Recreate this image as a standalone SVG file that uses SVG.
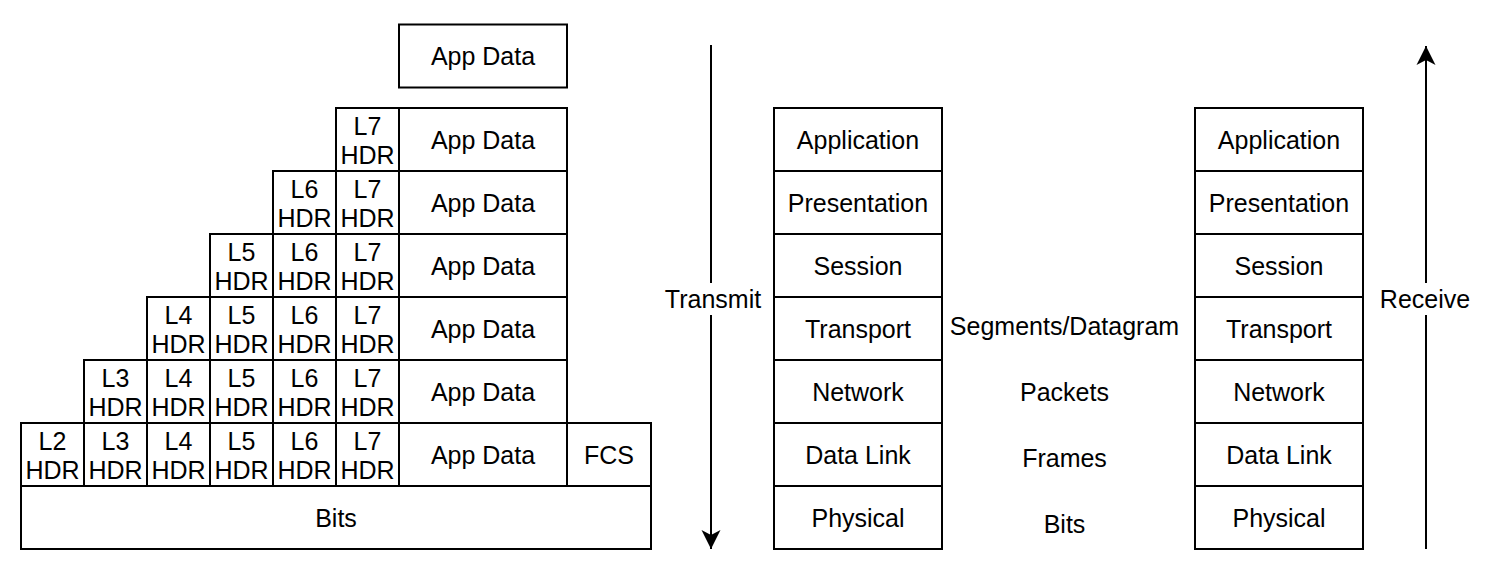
<svg xmlns="http://www.w3.org/2000/svg" width="1511" height="585" viewBox="0 0 1511 585">
<style>
rect.b{fill:#fff;stroke:#000;stroke-width:2}
text{font-family:"Liberation Sans",Arial,Helvetica,sans-serif;font-size:25px;fill:#000;text-anchor:middle}
line.c{stroke:#000;stroke-width:2}
</style>
<defs>
<marker id="ah" markerUnits="userSpaceOnUse" markerWidth="20" markerHeight="20" viewBox="0 0 20 20" refX="19" refY="10" orient="auto">
<path d="M0,0.5 L19,10 L0,19.5 L5,10 Z" fill="#000"/>
</marker>
</defs>
<rect width="1511" height="585" fill="#fff"/>
<g id="top-appdata"><rect class="b" x="399" y="24.5" width="168" height="63"/><text x="483" y="65">App Data</text></g>
<g id="row1">
<rect class="b" x="336" y="108" width="63" height="63"/><text x="367.5" y="135">L7</text><text x="367.5" y="164">HDR</text>
<rect class="b" x="399" y="108" width="168" height="63"/><text x="483" y="148.5">App Data</text>
</g>
<g id="row2">
<rect class="b" x="273" y="171" width="63" height="63"/><text x="304.5" y="198">L6</text><text x="304.5" y="227">HDR</text>
<rect class="b" x="336" y="171" width="63" height="63"/><text x="367.5" y="198">L7</text><text x="367.5" y="227">HDR</text>
<rect class="b" x="399" y="171" width="168" height="63"/><text x="483" y="211.5">App Data</text>
</g>
<g id="row3">
<rect class="b" x="210" y="234" width="63" height="63"/><text x="241.5" y="261">L5</text><text x="241.5" y="290">HDR</text>
<rect class="b" x="273" y="234" width="63" height="63"/><text x="304.5" y="261">L6</text><text x="304.5" y="290">HDR</text>
<rect class="b" x="336" y="234" width="63" height="63"/><text x="367.5" y="261">L7</text><text x="367.5" y="290">HDR</text>
<rect class="b" x="399" y="234" width="168" height="63"/><text x="483" y="274.5">App Data</text>
</g>
<g id="row4">
<rect class="b" x="147" y="297" width="63" height="63"/><text x="178.5" y="324">L4</text><text x="178.5" y="353">HDR</text>
<rect class="b" x="210" y="297" width="63" height="63"/><text x="241.5" y="324">L5</text><text x="241.5" y="353">HDR</text>
<rect class="b" x="273" y="297" width="63" height="63"/><text x="304.5" y="324">L6</text><text x="304.5" y="353">HDR</text>
<rect class="b" x="336" y="297" width="63" height="63"/><text x="367.5" y="324">L7</text><text x="367.5" y="353">HDR</text>
<rect class="b" x="399" y="297" width="168" height="63"/><text x="483" y="337.5">App Data</text>
</g>
<g id="row5">
<rect class="b" x="84" y="360" width="63" height="63"/><text x="115.5" y="387">L3</text><text x="115.5" y="416">HDR</text>
<rect class="b" x="147" y="360" width="63" height="63"/><text x="178.5" y="387">L4</text><text x="178.5" y="416">HDR</text>
<rect class="b" x="210" y="360" width="63" height="63"/><text x="241.5" y="387">L5</text><text x="241.5" y="416">HDR</text>
<rect class="b" x="273" y="360" width="63" height="63"/><text x="304.5" y="387">L6</text><text x="304.5" y="416">HDR</text>
<rect class="b" x="336" y="360" width="63" height="63"/><text x="367.5" y="387">L7</text><text x="367.5" y="416">HDR</text>
<rect class="b" x="399" y="360" width="168" height="63"/><text x="483" y="400.5">App Data</text>
</g>
<g id="row6">
<rect class="b" x="21" y="423" width="63" height="63"/><text x="52.5" y="450">L2</text><text x="52.5" y="479">HDR</text>
<rect class="b" x="84" y="423" width="63" height="63"/><text x="115.5" y="450">L3</text><text x="115.5" y="479">HDR</text>
<rect class="b" x="147" y="423" width="63" height="63"/><text x="178.5" y="450">L4</text><text x="178.5" y="479">HDR</text>
<rect class="b" x="210" y="423" width="63" height="63"/><text x="241.5" y="450">L5</text><text x="241.5" y="479">HDR</text>
<rect class="b" x="273" y="423" width="63" height="63"/><text x="304.5" y="450">L6</text><text x="304.5" y="479">HDR</text>
<rect class="b" x="336" y="423" width="63" height="63"/><text x="367.5" y="450">L7</text><text x="367.5" y="479">HDR</text>
<rect class="b" x="399" y="423" width="168" height="63"/><text x="483" y="463.5">App Data</text>
<rect class="b" x="567" y="423" width="84" height="63"/><text x="609" y="463.5">FCS</text>
</g>
<g id="bits"><rect class="b" x="21" y="486" width="630" height="63"/><text x="336" y="526.5">Bits</text></g>
<g id="tx-stack">
<rect class="b" x="774" y="108" width="168" height="63"/><text x="858" y="148.5">Application</text>
<rect class="b" x="774" y="171" width="168" height="63"/><text x="858" y="211.5">Presentation</text>
<rect class="b" x="774" y="234" width="168" height="63"/><text x="858" y="274.5">Session</text>
<rect class="b" x="774" y="297" width="168" height="63"/><text x="858" y="337.5">Transport</text>
<rect class="b" x="774" y="360" width="168" height="63"/><text x="858" y="400.5">Network</text>
<rect class="b" x="774" y="423" width="168" height="63"/><text x="858" y="463.5">Data Link</text>
<rect class="b" x="774" y="486" width="168" height="63"/><text x="858" y="526.5">Physical</text>
</g>
<g id="rx-stack">
<rect class="b" x="1195" y="108" width="168" height="63"/><text x="1279" y="148.5">Application</text>
<rect class="b" x="1195" y="171" width="168" height="63"/><text x="1279" y="211.5">Presentation</text>
<rect class="b" x="1195" y="234" width="168" height="63"/><text x="1279" y="274.5">Session</text>
<rect class="b" x="1195" y="297" width="168" height="63"/><text x="1279" y="337.5">Transport</text>
<rect class="b" x="1195" y="360" width="168" height="63"/><text x="1279" y="400.5">Network</text>
<rect class="b" x="1195" y="423" width="168" height="63"/><text x="1279" y="463.5">Data Link</text>
<rect class="b" x="1195" y="486" width="168" height="63"/><text x="1279" y="526.5">Physical</text>
</g>
<g id="pdu-labels">
<text x="1064.5" y="335">Segments/Datagram</text>
<text x="1064.5" y="401">Packets</text>
<text x="1064.5" y="467">Frames</text>
<text x="1064.5" y="533">Bits</text>
</g>
<g id="connectors">
<line class="c" x1="711" y1="45" x2="711" y2="549" marker-end="url(#ah)"/>
<rect x="660" y="283" width="104" height="32" fill="#fff"/>
<text x="713" y="307.5">Transmit</text>
<line class="c" x1="1426" y1="549" x2="1426" y2="46" marker-end="url(#ah)"/>
<rect x="1378" y="283" width="96" height="32" fill="#fff"/>
<text x="1425" y="307.5">Receive</text>
</g>
</svg>
